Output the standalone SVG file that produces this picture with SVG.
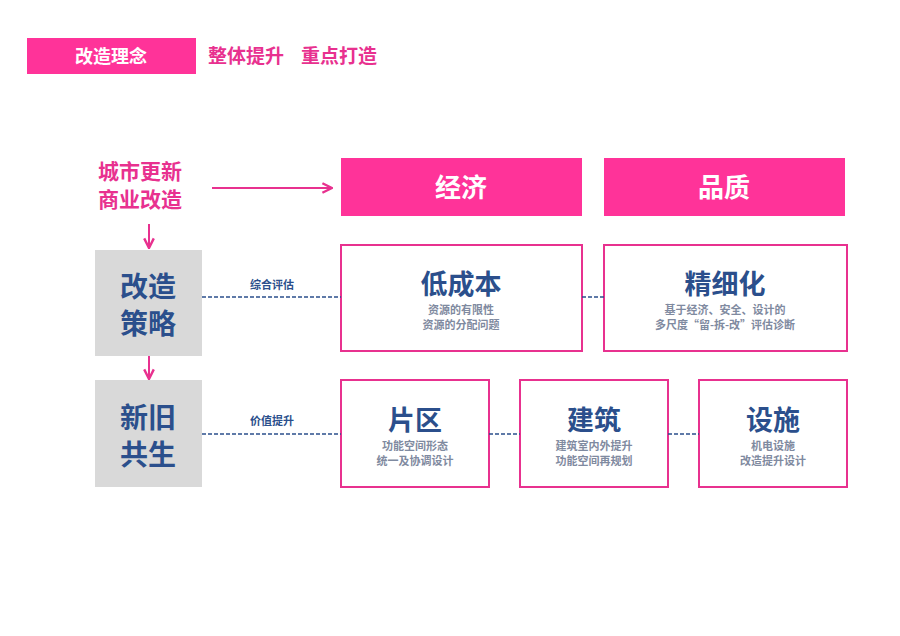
<svg xmlns="http://www.w3.org/2000/svg" width="900" height="636" viewBox="0 0 900 636">
<defs>
<style>
.cjk{font-family:"Noto Sans CJK SC","Noto Sans",sans-serif;font-weight:bold}
.box{fill:#fff;stroke:#e8318f;stroke-width:2}
.gray{fill:#d9d9d9}
.big{font-size:27px;fill:#2b4f8c;text-anchor:middle}
.sub{font-size:11px;fill:#7f8aa0;text-anchor:middle}
.side{font-size:28px;fill:#2b4f8c;text-anchor:middle}
.dash{stroke:#2b4f8c;stroke-width:1.3;stroke-dasharray:4,2;fill:none}
.pink{stroke:#e8318f;stroke-width:2;fill:none}
.lbl{font-size:11px;fill:#2b4f8c;text-anchor:middle}
</style>
<marker id="ah" viewBox="0 0 10 10" refX="9" refY="5" markerWidth="6" markerHeight="6" orient="auto"><path d="M1,1 L9,5 L1,9" fill="none" stroke="#e8318f" stroke-width="2"/></marker>
</defs>
<rect width="900" height="636" fill="#fff"/>
<g id="header">
<rect x="27" y="38" width="169" height="36" fill="#ff3399"/>
<text class="cjk" x="111" y="63" font-size="18" fill="#fff" text-anchor="middle">改造理念</text>
<text class="cjk" x="208" y="63" font-size="19" fill="#e8318f">整体提升</text>
<text class="cjk" x="301" y="63" font-size="19" fill="#e8318f">重点打造</text>
</g>
<g id="origin">
<text class="cjk" x="140" y="179" font-size="21" fill="#e8318f" text-anchor="middle">城市更新</text>
<text class="cjk" x="140" y="207" font-size="21" fill="#e8318f" text-anchor="middle">商业改造</text>
</g>
<g id="economy"><rect x="341" y="158" width="241" height="58" fill="#ff3399"/><text class="cjk" x="461" y="197" font-size="26" fill="#fff" text-anchor="middle">经济</text></g>
<g id="quality"><rect x="604" y="158" width="241" height="58" fill="#ff3399"/><text class="cjk" x="724" y="197" font-size="26" fill="#fff" text-anchor="middle">品质</text></g>
<g id="strategy"><rect class="gray" x="95" y="250" width="107" height="106"/><text class="cjk side" x="148" y="297">改造</text><text class="cjk side" x="148" y="334">策略</text></g>
<g id="coexist"><rect class="gray" x="95" y="380" width="107" height="107"/><text class="cjk side" x="148" y="428">新旧</text><text class="cjk side" x="148" y="465">共生</text></g>
<g id="lowcost"><rect class="box" x="341" y="245" width="241" height="106"/><text class="cjk big" x="461" y="294">低成本</text><text class="cjk sub" x="461" y="314">资源的有限性</text><text class="cjk sub" x="461" y="329">资源的分配问题</text></g>
<g id="fine"><rect class="box" x="604" y="245" width="243" height="106"/><text class="cjk big" x="725" y="294">精细化</text><text class="cjk sub" x="725" y="314">基于经济、安全、设计的</text><text class="cjk sub" x="725" y="329">多尺度“留-拆-改”评估诊断</text></g>
<g id="district"><rect class="box" x="341" y="380" width="148" height="107"/><text class="cjk big" x="415" y="430">片区</text><text class="cjk sub" x="415" y="450">功能空间形态</text><text class="cjk sub" x="415" y="465">统一及协调设计</text></g>
<g id="building"><rect class="box" x="520" y="380" width="148" height="107"/><text class="cjk big" x="594" y="430">建筑</text><text class="cjk sub" x="594" y="450">建筑室内外提升</text><text class="cjk sub" x="594" y="465">功能空间再规划</text></g>
<g id="facility"><rect class="box" x="699" y="380" width="148" height="107"/><text class="cjk big" x="773" y="430">设施</text><text class="cjk sub" x="773" y="450">机电设施</text><text class="cjk sub" x="773" y="465">改造提升设计</text></g>
<g id="connectors">
<line class="pink" x1="212" y1="188" x2="332" y2="188" marker-end="url(#ah)"/>
<line class="pink" x1="149" y1="224" x2="149" y2="248" marker-end="url(#ah)"/>
<line class="pink" x1="149" y1="356" x2="149" y2="379" marker-end="url(#ah)"/>
<line class="dash" x1="202" y1="297" x2="341" y2="297"/>
<line class="dash" x1="582" y1="297" x2="604" y2="297"/>
<line class="dash" x1="202" y1="434" x2="341" y2="434"/>
<line class="dash" x1="489" y1="434" x2="520" y2="434"/>
<line class="dash" x1="668" y1="434" x2="699" y2="434"/>
<text class="cjk lbl" x="272" y="289">综合评估</text>
<text class="cjk lbl" x="272" y="425">价值提升</text>
</g>
</svg>
